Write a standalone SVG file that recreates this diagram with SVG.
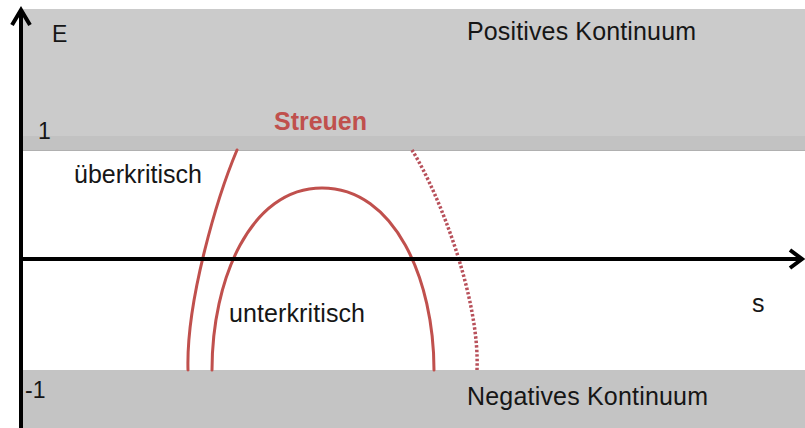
<svg xmlns="http://www.w3.org/2000/svg" width="805" height="428" viewBox="0 0 805 428">
<style>
text{font-family:"Liberation Sans",Arial,sans-serif;fill:#161616}
.lbl{font-size:25px}
.ax{font-size:23px}
.curve{fill:none;stroke:#c0504d;stroke-width:3;stroke-linecap:round}
.dot{fill:none;stroke:#b8505a;stroke-width:3.5;stroke-dasharray:2.5 2}
.axis{fill:none;stroke:#000;stroke-width:4}
</style>
<rect width="805" height="428" fill="#fff"/>
<g id="positive-continuum">
<rect x="22" y="9" width="783" height="141" fill="#cbcbcb"/>
<rect x="22" y="136" width="783" height="14" fill="#c2c2c2"/>
<line x1="22" y1="150.5" x2="805" y2="150.5" stroke="#b0b0b0" stroke-width="1"/>
<text class="lbl" x="467" y="40" textLength="229">Positives Kontinuum</text>
</g>
<g id="negative-continuum">
<rect x="22" y="370" width="783" height="58" fill="#c4c4c4"/>
<text class="lbl" x="467" y="405" textLength="241">Negatives Kontinuum</text>
</g>
<g id="curves">
<path class="curve" d="M237,150 C218,195 186,300 188,370"/>
<path class="dot" d="M412,150 C440,195 480,300 477,370"/>
<path class="curve" d="M212,370 C212,280 250,188 322,188 C395,188 434,280 434,370"/>
</g>
<g id="axes">
<line class="axis" x1="21" y1="428" x2="21" y2="11"/>
<polyline class="axis" points="12,25 21,10 30,25"/>
<line class="axis" x1="21" y1="259" x2="801" y2="259"/>
<polyline class="axis" points="790,250 802,259 790,268"/>
</g>
<g id="labels">
<text class="ax" x="52" y="42">E</text>
<text class="ax" x="38" y="139">1</text>
<text class="ax" x="25" y="398">-1</text>
<text style="font-size:25px;font-weight:bold;fill:#c0504d" x="274" y="130" textLength="93">Streuen</text>
<text class="lbl" x="74" y="183" textLength="128">überkritisch</text>
<text class="lbl" x="229" y="322" textLength="136">unterkritisch</text>
<text class="lbl" x="752" y="312">s</text>
</g>
</svg>
